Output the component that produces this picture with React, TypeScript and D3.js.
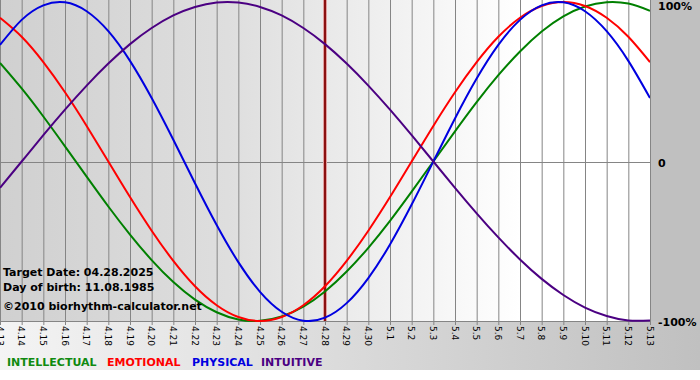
import React from "react";
import * as d3 from "d3";

const days = ["4.13","4.14","4.15","4.16","4.17","4.18","4.19","4.20","4.21","4.22","4.23","4.24","4.25","4.26","4.27","4.28","4.29","4.30","5.1","5.2","5.3","5.4","5.5","5.6","5.7","5.8","5.9","5.10","5.11","5.12","5.13"];
const physical = [0.731,0.888,0.979,0.998,0.942,0.817,0.631,0.398,0.136,-0.136,-0.398,-0.631,-0.817,-0.942,-0.998,-0.979,-0.888,-0.731,-0.520,-0.270,0,0.270,0.520,0.731,0.888,0.979,0.998,0.942,0.817,0.631,0.398];
const emotional = [0.901,0.782,0.623,0.434,0.223,0,-0.223,-0.434,-0.623,-0.782,-0.901,-0.975,-1,-0.975,-0.901,-0.782,-0.623,-0.434,-0.223,0,0.223,0.434,0.623,0.782,0.901,0.975,1,0.975,0.901,0.782,0.623];
const intellectual = [0.618,0.458,0.282,0.095,-0.095,-0.282,-0.458,-0.618,-0.756,-0.866,-0.945,-0.990,-0.999,-0.972,-0.910,-0.815,-0.690,-0.541,-0.372,-0.189,0,0.189,0.372,0.541,0.690,0.815,0.910,0.972,0.999,0.990,0.945];
const intuitive = [-0.165,0,0.165,0.325,0.476,0.614,0.736,0.837,0.916,0.969,0.997,0.997,0.969,0.916,0.837,0.736,0.614,0.476,0.325,0.165,0,-0.165,-0.325,-0.476,-0.614,-0.736,-0.837,-0.916,-0.969,-0.997,-0.997];
const targetDay = "4.28";
const yTicks = [1, 0, -1];
const yTickLabels = ["100%", "0", "-100%"];
const legendNames = ["INTELLECTUAL", "EMOTIONAL", "PHYSICAL", "INTUITIVE"];
const infoLines = ["Target Date: 04.28.2025", "Day of birth: 11.08.1985", "\u00a92010 biorhythm-calculator.net"];

const W = 700, H = 380;
const plotL = 0, plotR = 650, plotT = 0, plotB = 321;
const font = "'DejaVu Sans', Verdana, sans-serif";

export default function App() {
  const x = d3.scaleLinear().domain([0, days.length - 1]).range([plotL, plotR]);
  const y = d3.scaleLinear().domain([-1, 1]).range([plotB, 2]);
  const line = d3.line<number>().x((_, i) => x(i)).y((v) => y(v)).curve(d3.curveNatural);
  const series = [
    { name: legendNames[0], values: intellectual, color: "#008000" },
    { name: legendNames[1], values: emotional, color: "#ff0000" },
    { name: legendNames[2], values: physical, color: "#0000e0" },
    { name: legendNames[3], values: intuitive, color: "#4b0082" },
  ];
  const legendX = [7, 107, 192, 261];
  const legendColors = ["#108a10", "#ff0000", "#0000e0", "#4b0082"];
  const tIdx = days.indexOf(targetDay);
  return (
    <svg width={W} height={H} style={{ position: "absolute", left: 0, top: 0 }} fontFamily={font}>
      <defs>
        <linearGradient id="plotBg" x1="0" x2="1" y1="0" y2="0">
          <stop offset="0%" stopColor="#d0d0d0" />
          <stop offset="35%" stopColor="#dedede" />
          <stop offset="80%" stopColor="#ffffff" />
          <stop offset="100%" stopColor="#ffffff" />
        </linearGradient>
        <linearGradient id="botBg" x1="0" x2="1" y1="0" y2="0">
          <stop offset="0%" stopColor="#f4f4f4" />
          <stop offset="100%" stopColor="#c0c0c0" />
        </linearGradient>
        <clipPath id="plotClip">
          <rect x={plotL} y={plotT} width={plotR - plotL} height={plotB - plotT + 1} />
        </clipPath>
      </defs>
      <rect x={0} y={0} width={W} height={H} fill="#ffffff" />
      <rect x={0} y={plotB} width={W} height={49} fill="url(#botBg)" />
      <rect x={plotR} y={0} width={W - plotR} height={plotB} fill="#c0c0c0" />
      <rect x={plotL} y={plotT} width={plotR - plotL} height={plotB - plotT} fill="url(#plotBg)" />
      {days.map((d, i) => (
        <line key={"g" + d} x1={x(i) + 0.5} x2={x(i) + 0.5} y1={plotT} y2={plotB + 4} stroke="#858585" strokeWidth={1} />
      ))}
      <line x1={plotL} x2={plotR} y1={Math.round(y(0)) + 0.5} y2={Math.round(y(0)) + 0.5} stroke="#858585" />
      <line x1={plotL} x2={plotR} y1={plotB + 0.5} y2={plotB + 0.5} stroke="#858585" />
      <g clipPath="url(#plotClip)">
        <line x1={x(tIdx)} x2={x(tIdx)} y1={plotT} y2={plotB} stroke="#e0a0a0" strokeWidth={4} />
        <line x1={x(tIdx)} x2={x(tIdx)} y1={plotT} y2={plotB} stroke="#8b1010" strokeWidth={2} />
        {series.map((s) => (
          <path key={s.name} d={line(s.values) || ""} fill="none" stroke={s.color} strokeWidth={2} />
        ))}
      </g>
      {days.map((d, i) => (
        <text key={"t" + d} transform={`translate(${x(i) - 3.5},${plotB + 5}) rotate(90)`} fontSize={9} fill="#000" textAnchor="start">
          {d}
        </text>
      ))}
      {yTicks.map((v, i) => (
        <text key={"y" + v} x={658} y={Math.max(y(v) + 5, 10)} fontSize={11} fontWeight="bold" fill="#000">
          {yTickLabels[i]}
        </text>
      ))}
      {infoLines.map((t, i) => (
        <text key={"i" + i} x={3} y={[276, 291, 310][i]} fontSize={11} fontWeight="bold" fill="#000">
          {t}
        </text>
      ))}
      {legendNames.map((n, i) => (
        <text key={"l" + n} x={legendX[i]} y={366} fontSize={11} fontWeight="bold" fill={legendColors[i]}>
          {n}
        </text>
      ))}
    </svg>
  );
}
